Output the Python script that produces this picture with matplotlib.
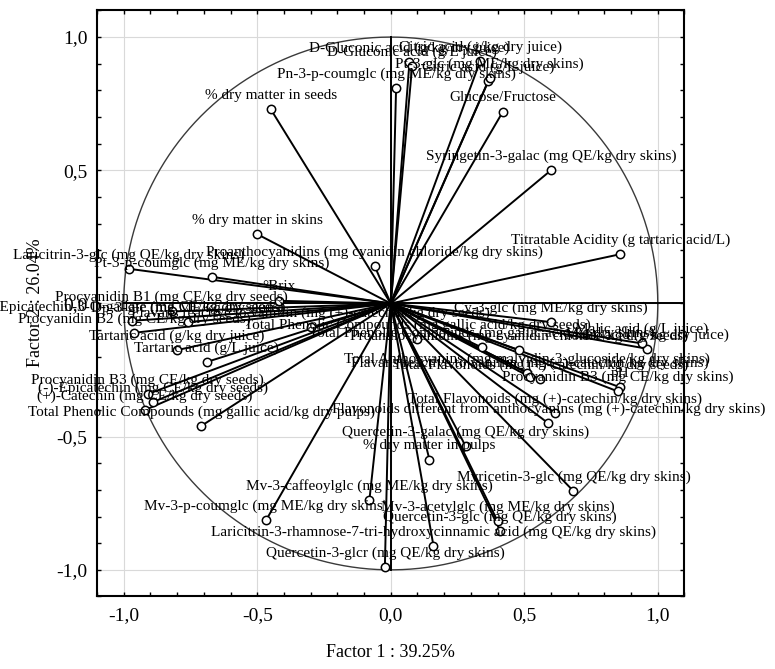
import matplotlib
matplotlib.use("Agg")
import matplotlib.pyplot as plt
import numpy as np
from matplotlib.ticker import MultipleLocator, FuncFormatter

# variable loadings on factor 1 / factor 2
names_up = [
    "% dry matter in seeds",
    "Pn-3-p-coumglc (mg ME/kg dry skins)",
    "D-Gluconic acid (g/kg dry juice)",
    "D-Gluconic acid (g/L juice)",
    "Citric acid (g/kg dry juice)",
    "Citric acid (g/L juice)",
    "Pt-3-glc (mg ME/kg dry skins)",
    "Glucose/Fructose",
    "Syringetin-3-galac (mg QE/kg dry skins)",
    "Titratable Acidity (g tartaric acid/L)",
    "% dry matter in skins",
    "Proanthocyanidins (mg cyanidin chloride/kg dry skins)",
    "Laricitrin-3-glc (mg QE/kg dry skins)",
    "Pt-3-p-coumglc (mg ME/kg dry skins)",
    "°Brix",
]
f1_up = [-0.45, 0.02, 0.07, 0.08, 0.335, 0.365, 0.37, 0.42, 0.60, 0.86, -0.50, -0.06, -0.98, -0.67, -0.42]
f2_up = [0.73, 0.81, 0.905, 0.89, 0.91, 0.835, 0.845, 0.72, 0.50, 0.185, 0.26, 0.14, 0.13, 0.10, 0.01]

names_left = [
    "Procyanidin B1 (mg CE/kg dry seeds)",
    "(-)-Epicatechin-3-O-gallate (mg CE/kg dry seeds)",
    "Dp-3-glc (mg ME/kg dry skins)",
    "Procyanidin B2 (mg CE/kg dry seeds)",
    "Flavans reactive to vanillin (mg (+)-catechin/kg dry seeds)",
    "Tartaric acid (g/kg dry juice)",
    "Tartaric acid (g/L juice)",
    "Procyanidin B3 (mg CE/kg dry seeds)",
    "(-)-Epicatechin (mg CE/kg dry seeds)",
    "(+)-Catechin (mg CE/kg dry seeds)",
    "Total Phenolic Compounds (mg gallic acid/kg dry pulps)",
]
f1_left = [-0.82, -0.97, -0.76, -0.96, -0.30, -0.80, -0.69, -0.91, -0.89, -0.92, -0.71]
f2_left = [-0.03, -0.065, -0.07, -0.11, -0.09, -0.175, -0.22, -0.34, -0.37, -0.40, -0.46]

names_right = [
    "Cy-3-glc (mg ME/kg dry skins)",
    "Total Phenolic Compounds (mg gallic acid/kg dry seeds)",
    "Total Phenolic Compounds (mg gallic acid/kg dry skins)",
    "Proanthocyanidins (mg cyanidin chloride/kg dry seeds)",
    "Malic acid (g/kg dry juice)",
    "Malic acid (g/L juice)",
    "Total Anthocyanins (mg malvidin-3-glucoside/kg dry skins)",
    "Flavans reactive to vanillin (mg (+)-catechin/kg dry skins)",
    "Total Flavonoids (mg (+)-catechin/kg dry seeds)",
    "pH",
    "Procyanidin B3 (mg CE/kg dry skins)",
    "Total Flavonoids (mg (+)-catechin/kg dry skins)",
    "Flavonoids different from anthocyanins (mg (+)-catechin/kg dry skins)",
]
f1_right = [0.60, 0.10, 0.34, 0.48, 0.96, 0.94, 0.51, 0.52, 0.56, 0.86, 0.85, 0.615, 0.59]
f2_right = [-0.07, -0.135, -0.165, -0.175, -0.17, -0.15, -0.26, -0.275, -0.285, -0.315, -0.33, -0.41, -0.45]

names_low = [
    "Quercetin-3-galac (mg QE/kg dry skins)",
    "% dry matter in pulps",
    "Myricetin-3-glc (mg QE/kg dry skins)",
    "Mv-3-caffeoylglc (mg ME/kg dry skins)",
    "Mv-3-p-coumglc (mg ME/kg dry skins)",
    "Mv-3-acetylglc (mg ME/kg dry skins)",
    "Quercetin-3-glc (mg QE/kg dry skins)",
    "Laricitrin-3-rhamnose-7-tri-hydroxycinnamic acid (mg QE/kg dry skins)",
    "Quercetin-3-glcr (mg QE/kg dry skins)",
]
f1_low = [0.28, 0.145, 0.684, -0.08, -0.466, 0.40, 0.41, 0.16, -0.022]
f2_low = [-0.535, -0.587, -0.704, -0.738, -0.812, -0.817, -0.854, -0.91, -0.989]

names = names_up + names_left + names_right + names_low
f1 = np.array(f1_up + f1_left + f1_right + f1_low)
f2 = np.array(f2_up + f2_left + f2_right + f2_low)

plt.rcParams['font.family'] = ['Liberation Serif', 'DejaVu Serif']

fig = plt.figure(figsize=(7.75, 6.69), dpi=100)
ax = fig.add_axes([0.1252, 0.1084, 0.758, 0.876])
ax.set_xlim(-1.1, 1.1)
ax.set_ylim(-1.1, 1.1)

ax.xaxis.set_major_locator(MultipleLocator(0.5))
ax.yaxis.set_major_locator(MultipleLocator(0.5))
ax.xaxis.set_minor_locator(MultipleLocator(0.1))
ax.yaxis.set_minor_locator(MultipleLocator(0.1))
fmt = FuncFormatter(lambda v, p: f"{v:.1f}".replace(".", ",").replace("-0,0", "0,0"))
ax.xaxis.set_major_formatter(fmt)
ax.yaxis.set_major_formatter(fmt)
ax.tick_params(which='both', direction='in', top=True, right=True,
               length=3, width=1.0, labelsize=14)
ax.tick_params(axis='x', pad=8)
ax.tick_params(axis='y', pad=7)
for s in ax.spines.values():
    s.set_linewidth(1.5)

ax.grid(True, which='major', color='#d9d9d9', linewidth=0.8)
ax.set_axisbelow(True)

# unit circle and axis cross
t = np.linspace(0, 2 * np.pi, 400)
ax.plot(np.cos(t), np.sin(t), color='#3a3a3a', linewidth=1.0, zorder=2)
ax.plot([-1.0, 1.1], [0, 0], color='black', linewidth=1.4, zorder=2)
ax.plot([0, 0], [-1.0, 1.0], color='black', linewidth=1.4, zorder=2)

for x, y in zip(f1, f2):
    ax.plot([0, x], [0, y], color='black', linewidth=1.4, zorder=3)
ax.plot(f1, f2, 'o', markersize=6, markerfacecolor='white',
        markeredgecolor='black', markeredgewidth=1.1, zorder=4)

for name, x, y in zip(names, f1, f2):
    ax.annotate(name, (x, y), xytext=(0, 10), textcoords='offset points',
                ha='center', va='center', fontsize=11, zorder=5,
                annotation_clip=False)

fig.text(0.5 * (0.1252 + 0.8832), 0.024, "Factor 1 : 39.25%", ha='center',
         va='center', fontsize=13)
fig.text(0.046, 0.547, "Factor 2 : 26.04%", ha='center', va='center',
         rotation=90, fontsize=13)

fig.savefig("out.png", dpi=100)
